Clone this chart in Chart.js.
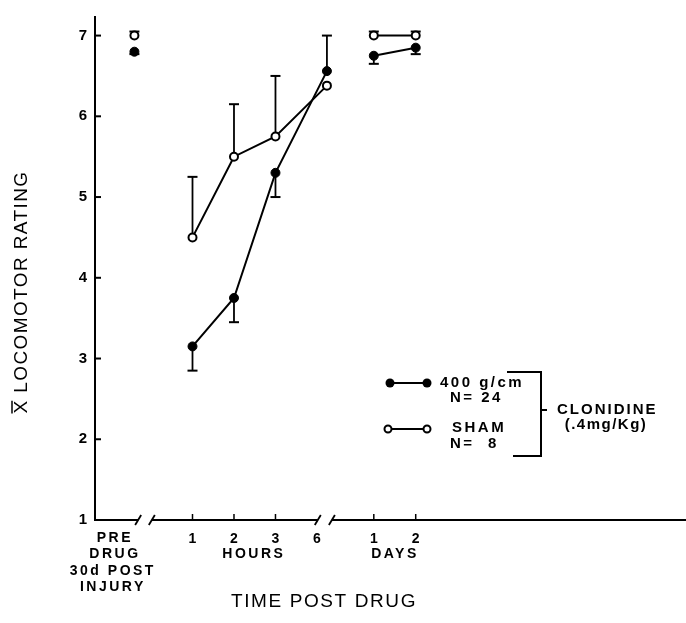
<!DOCTYPE html>
<html>
<head>
<meta charset="utf-8">
<script src="https://cdn.jsdelivr.net/npm/chart.js@4.4.0/dist/chart.umd.min.js"></script>
<style>
  html, body { margin: 0; padding: 0; background: #fff; }
  #wrap { width: 686px; height: 623px; }
</style>
</head>
<body>
<div id="wrap"><canvas id="chart"></canvas></div>
<script>
// time points on the broken axis: pre-drug, 1/2/3/6 hours, 1/2 days
const timeSlots = [-0.4, 1, 2, 3, 4.24, 5.37, 6.38];

// sham animals (open circles), error bars drawn upward
const shamMean = [7.0, 4.5, 5.5, 5.75, 6.38, 7.0, 7.0];
const shamSem = [0.05, 0.75, 0.65, 0.75, 0, 0.05, 0.05];

// 400 g/cm injured animals (filled circles)
const injMean = [6.8, 3.15, 3.75, 5.3, 6.56, 6.75, 6.85];
const injSem = [0.03, 0.3, 0.3, 0.3, 0.44, 0.1, 0.08];
const injSemDir = [-1, -1, -1, -1, 1, -1, -1];

const yTicks = [1, 2, 3, 4, 5, 6, 7];
const xTickPos = [1, 2, 3, 4.0, 5.37, 6.38];
const xTickText = ['1', '2', '3', '6', '1', '2'];
const xMarkPos = [1, 2, 3, 5.37, 6.38];
const axisBreaks = [[-0.31, 0.02], [4.02, 4.36]];

// index after which the line is not drawn (pre -> 1h, 6h -> 1 day)
const lineGaps = [0, 4];

const FONT = '"Liberation Sans", Arial, sans-serif';

function pts(means) {
    return means.map((v, i) => ({x: timeSlots[i], y: v}));
}

function text(ctx, str, x, y, size, bold, spacing, align) {
    ctx.font = (bold ? 'bold ' : '') + size + 'px ' + FONT;
    ctx.letterSpacing = spacing + 'px';
    ctx.textAlign = align || 'center';
    ctx.textBaseline = 'middle';
    ctx.fillStyle = '#000';
    ctx.fillText(str, x, y);
}

function line(ctx, x1, y1, x2, y2, w) {
    ctx.beginPath();
    ctx.lineWidth = w || 2;
    ctx.strokeStyle = '#000';
    ctx.moveTo(x1, y1);
    ctx.lineTo(x2, y2);
    ctx.stroke();
}

const errorBars = {
    id: 'errorBars',
    beforeDatasetsDraw(chart) {
        const ctx = chart.ctx;
        const xs = chart.scales.x, ys = chart.scales.y;
        ctx.save();
        const draw = (means, sems, dirs) => {
            means.forEach((m, i) => {
                if (!sems[i]) return;
                const px = xs.getPixelForValue(timeSlots[i]);
                const y0 = ys.getPixelForValue(m);
                const y1 = ys.getPixelForValue(m + dirs[i] * sems[i]);
                line(ctx, px, y0, px, y1, 1.8);
                line(ctx, px - 5, y1, px + 5, y1, 2);
            });
        };
        draw(shamMean, shamSem, shamMean.map(() => 1));
        draw(injMean, injSem, injSemDir);
        ctx.restore();
    }
};

const decorations = {
    id: 'decorations',
    afterDraw(chart) {
        const ctx = chart.ctx;
        const xs = chart.scales.x, ys = chart.scales.y;
        const area = chart.chartArea;
        const base = area.bottom;
        ctx.save();

        // broken x axis, running out to the canvas edge
        const segs = [[area.left, xs.getPixelForValue(axisBreaks[0][0])],
                      [xs.getPixelForValue(axisBreaks[0][1]), xs.getPixelForValue(axisBreaks[1][0])],
                      [xs.getPixelForValue(axisBreaks[1][1]), chart.width]];
        segs.forEach(s => line(ctx, s[0], base, s[1], base, 2));
        axisBreaks.forEach(b => {
            b.forEach(v => {
                const px = xs.getPixelForValue(v);
                line(ctx, px - 3, base + 5, px + 3, base - 5, 1.8);
            });
        });
        xMarkPos.forEach(v => {
            const px = xs.getPixelForValue(v);
            line(ctx, px, base, px, base - 6, 1.5);
        });

        // inward y tick marks
        yTicks.forEach(v => {
            const py = ys.getPixelForValue(v);
            line(ctx, area.left, py, area.left + 6, py, 2);
        });

        // group labels under the x axis
        const gx = v => xs.getPixelForValue(v);
        text(ctx, 'PRE', gx(-0.87), 538, 14, true, 2.5);
        text(ctx, 'DRUG', gx(-0.87), 554, 14, true, 2.5);
        text(ctx, '30d POST', gx(-0.92), 571, 14, true, 2.5);
        text(ctx, 'INJURY', gx(-0.92), 587, 14, true, 2.5);
        text(ctx, 'HOURS', gx(2.48), 554, 14, true, 2.5);
        text(ctx, 'DAYS', gx(5.88), 554, 14, true, 2.5);

        // axis titles
        text(ctx, 'TIME POST DRUG', 324, 602, 19, false, 1.6);
        ctx.save();
        ctx.translate(22, 292);
        ctx.rotate(-Math.PI / 2);
        const yTitle = 'X LOCOMOTOR RATING';
        ctx.font = '19px ' + FONT;
        ctx.letterSpacing = '1.4px';
        const full = ctx.measureText(yTitle).width;
        const xw = ctx.measureText('X').width - 1.4;
        text(ctx, yTitle, -full / 2, 0, 19, false, 1.4, 'left');
        line(ctx, -full / 2, -10, -full / 2 + xw, -10, 1.5);
        ctx.restore();

        // legend
        line(ctx, 390, 383, 427, 383, 2);
        [390, 427].forEach(x => {
            ctx.beginPath();
            ctx.arc(x, 383, 4.5, 0, Math.PI * 2);
            ctx.fillStyle = '#000';
            ctx.fill();
        });
        line(ctx, 388, 429, 427, 429, 2);
        [388, 427].forEach(x => {
            ctx.beginPath();
            ctx.arc(x, 429, 3.5, 0, Math.PI * 2);
            ctx.fillStyle = '#fff';
            ctx.fill();
            ctx.lineWidth = 2;
            ctx.strokeStyle = '#000';
            ctx.stroke();
        });
        text(ctx, '400 g/cm', 440, 383, 15, true, 2.5, 'left');
        text(ctx, 'N= 24', 450, 398, 15, true, 2.5, 'left');
        text(ctx, 'SHAM', 452, 428, 15, true, 2.5, 'left');
        text(ctx, 'N=  8', 450, 444, 15, true, 2.5, 'left');

        // bracket and drug label
        line(ctx, 507, 372, 542, 372, 2);
        line(ctx, 541, 371, 541, 457, 2);
        line(ctx, 513, 456, 542, 456, 2);
        line(ctx, 541, 410, 547, 410, 2);
        text(ctx, 'CLONIDINE', 557, 410, 15, true, 2, 'left');
        text(ctx, '(.4mg/Kg)', 606, 425, 15, true, 1.5);

        ctx.restore();
    }
};

const segmentColor = c => lineGaps.includes(c.p0DataIndex) ? 'transparent' : '#000';

new Chart(document.getElementById('chart'), {
    type: 'scatter',
    data: {
        datasets: [
            {
                label: 'SHAM',
                data: pts(shamMean),
                showLine: true,
                borderColor: '#000',
                borderWidth: 2,
                segment: {borderColor: segmentColor},
                pointRadius: 4,
                pointBackgroundColor: '#fff',
                pointBorderColor: '#000',
                pointBorderWidth: 2
            },
            {
                label: '400 g/cm',
                data: pts(injMean),
                showLine: true,
                borderColor: '#000',
                borderWidth: 2,
                segment: {borderColor: segmentColor},
                pointRadius: 4.5,
                pointBackgroundColor: '#000',
                pointBorderColor: '#000',
                pointBorderWidth: 1
            }
        ]
    },
    options: {
        responsive: true,
        maintainAspectRatio: false,
        animation: false,
        layout: {padding: {top: 8, right: 0, left: 0, bottom: 0}},
        plugins: {legend: {display: false}, tooltip: {enabled: false}},
        scales: {
            x: {
                type: 'linear',
                min: -1.35,
                max: 12.75,
                afterFit: s => { s.height = 103; },
                afterBuildTicks: s => { s.ticks = xTickPos.map(v => ({value: v})); },
                grid: {display: false, drawTicks: false},
                border: {display: false},
                ticks: {
                    padding: 11,
                    maxRotation: 0,
                    autoSkip: false,
                    color: '#000',
                    font: {family: FONT, size: 14, weight: 'bold'},
                    callback: (v, i) => xTickText[i]
                }
            },
            y: {
                min: 1,
                max: 7.23,
                afterFit: s => { s.width = 95; },
                afterBuildTicks: s => { s.ticks = yTicks.map(v => ({value: v})); },
                grid: {display: false, drawTicks: false},
                border: {display: true, color: '#000', width: 2},
                ticks: {
                    padding: 8,
                    color: '#000',
                    font: {family: FONT, size: 15, weight: 'bold'}
                }
            }
        }
    },
    plugins: [errorBars, decorations]
});
</script>
</body>
</html>
